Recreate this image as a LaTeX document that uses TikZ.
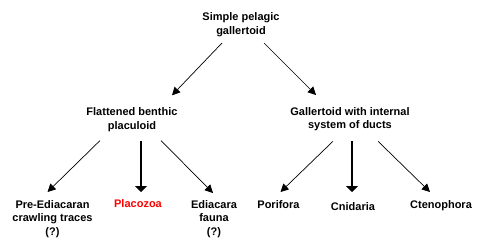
\documentclass[tikz,border=0pt]{standalone}
\usepackage{fontspec}
\setmainfont{Liberation Sans}
\usetikzlibrary{arrows.meta}
\begin{document}
\begin{tikzpicture}[x=1pt, y=-1pt, line join=round, font=\fontsize{11}{13.6}\selectfont\bfseries]
				\tikzset{taxon/.style={inner sep=0pt, align=center, anchor=north},
					thin arrow/.style={line width=0.7pt, -{Triangle[width=8pt,length=8pt]}},
					thick arrow/.style={line width=1.5pt, -{Triangle[width=12pt,length=6pt]}}}
				\useasboundingbox (0,0) rectangle (500,250);
				\path (241,12.7) coordinate (T)
				(132,107.3) coordinate (L)
				(350,107) coordinate (R)
				;
				% the three levels
				\node[taxon] (simple) at (T) {Simple pelagic\\gallertoid};
				\node[taxon] (flat) at (L) {Flattened benthic\\placuloid};
				\node[taxon] (duct) at (R) {Gallertoid with internal\\system of ducts};
				\node[taxon] (pre) at (52.5,200) {Pre-Ediacaran\\crawling traces\\(?)};
				\node[taxon,red] (placozoa) at (138,199) {Placozoa};
				\node[taxon] (ediacara) at (214,200) {Ediacara\\fauna\\(?)};
				\node[taxon] (porifora) at (278.5,200) {Porifora};
				\node[taxon] (cnidaria) at (353,202) {Cnidaria};
				\node[taxon] (ctenophora) at (441,200) {Ctenophora};
				% arrows
				\foreach \p/\px/\py/\c/\cx/\cy in {simple/-19/6/flat/40/-12, simple/23/6/duct/-34/-12,
					flat/-32/9/pre/-5/-8, flat/29/9/ediacara/-1/-7, duct/-17/10/porifora/2/-8, duct/28/10/ctenophora/-11/-8}
				\draw[thin arrow] ([shift={(\px,\py)}]\p.south) -- ([shift={(\cx,\cy)}]\c.north);
				\foreach \p/\px/\py/\c/\cx/\cy in {flat/9/9/placozoa/3/-7, duct/2/10/cnidaria/-1/-10}
				\draw[thick arrow] ([shift={(\px,\py)}]\p.south) -- ([shift={(\cx,\cy)}]\c.north);
\end{tikzpicture}
\end{document}
